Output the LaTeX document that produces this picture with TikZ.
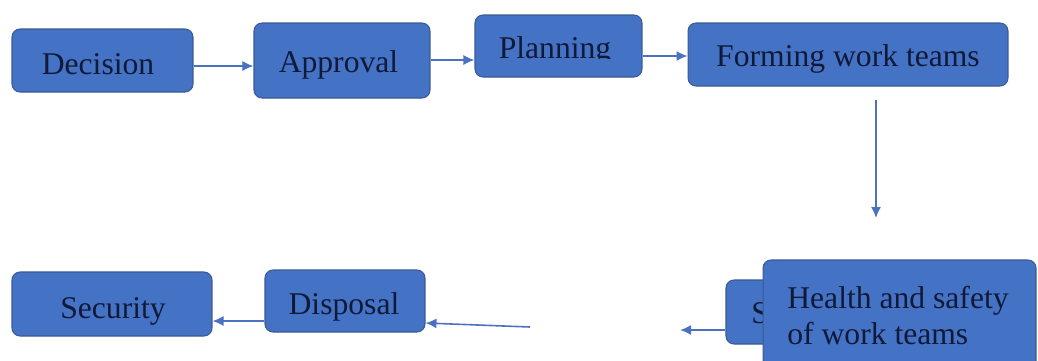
\documentclass[tikz,border=0pt]{standalone}
\usepackage{fontspec}
\setmainfont{Liberation Serif}
\usetikzlibrary{arrows.meta}
\definecolor{boxfill}{HTML}{4472C4}
\definecolor{boxline}{HTML}{3A5A94}
\definecolor{boxtext}{HTML}{101A38}
\definecolor{arrowc}{HTML}{4A72C0}
\tikzset{
  stepbox/.style={draw=boxline, line width=0.6pt, fill=boxfill, rounded corners=0.16cm,
    inner sep=0pt, anchor=center},
  txt/.style={text=boxtext, font=\fontsize{18}{20}\selectfont, inner sep=0pt, anchor=base},
  arr/.style={draw=arrowc, line width=0.9pt, -{Latex[length=0.22cm,width=0.2cm]}}
}
\begin{document}
\begin{tikzpicture}[x=0.02cm,y=-0.02cm]
\useasboundingbox[fill=white] (0,0) rectangle (1038,360);
% top row
\node[stepbox, minimum width=3.62cm, minimum height=1.26cm] (dec) at (102.5,60.5) {};
\node[txt] (decT) at (98,74) {Decision};
\node[stepbox, minimum width=3.52cm, minimum height=1.5cm] (app) at (342,60.5) {};
\node[txt] (appT) at (338.5,72) {Approval};
\node[stepbox, minimum width=3.34cm, minimum height=1.24cm] (pla) at (558.5,46) {};
\begin{scope}
  \clip (470,10) rectangle (650,58.5);
  \node[txt] (plaT) at (555,58) {Planning};
\end{scope}
\node[stepbox, minimum width=6.4cm, minimum height=1.26cm] (for) at (848,54.5) {};
\node[txt] (forT) at (848,66) {Forming work teams};
% bottom row
\node[stepbox, minimum width=4.0cm, minimum height=1.28cm] (sec) at (112,304) {};
\node[txt] (secT) at (113,318) {Security};
\node[stepbox, minimum width=3.2cm, minimum height=1.24cm] (dis) at (345,301) {};
\node[txt] (disT) at (344,314) {Disposal};
\node[stepbox, minimum width=3.0cm, minimum height=1.28cm] (sto) at (801,312) {};
\node[txt, anchor=base west] (stoT) at (751,323) {S};
\node[stepbox, minimum width=5.46cm, minimum height=2.24cm] (hea) at (899.5,316) {};
\node[txt, anchor=base west] (heaT1) at (787,308) {Health and safety};
\node[txt, anchor=base west] (heaT2) at (787,344) {of work teams};
% free ends
\coordinate (v1) at (876,100);
\coordinate (v2) at (876,218);
\coordinate (m1) at (530,327);
\coordinate (s1) at (680,330);
% connectors
\draw[arr] (dec.east |- 0,66) -- (app.west |- 0,66);
\draw[arr] (app.east |- 0,60) -- (pla.west |- 0,60);
\draw[arr] (pla.east |- 0,56) -- (for.west |- 0,56);
\draw[arr] (v1) -- (v2);
\draw[arr] (m1) -- (dis.east |- 0,323);
\draw[arr] (dis.west |- 0,321) -- (sec.east |- 0,321);
\draw[arr] (sto.west |- 0,330) -- (s1);
\end{tikzpicture}
\end{document}
